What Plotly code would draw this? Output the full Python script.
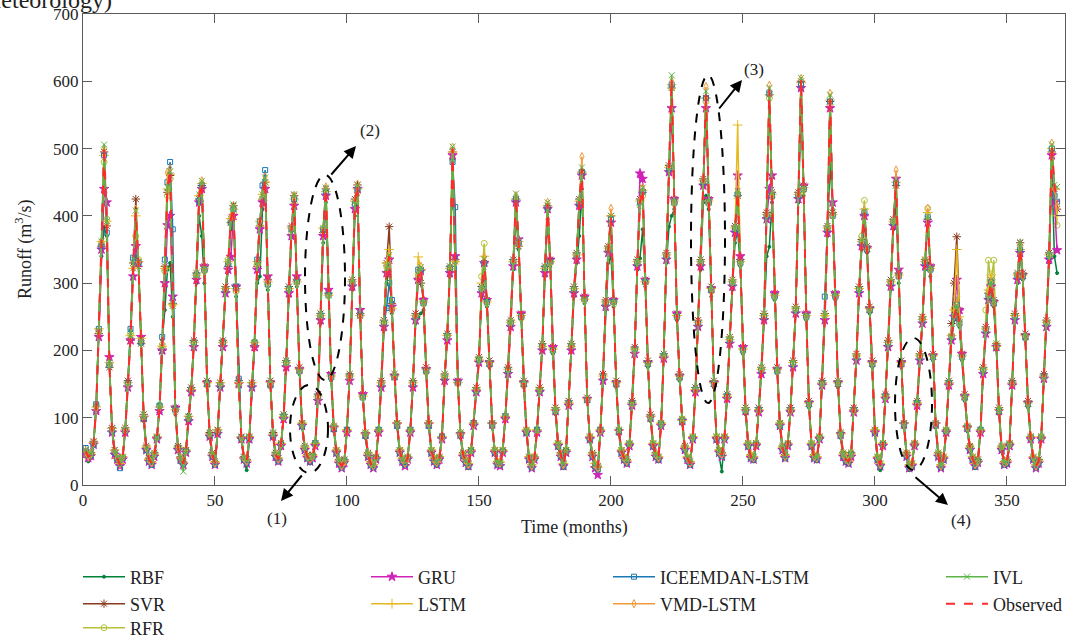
import plotly.graph_objects as go

# ---------------- data (monthly runoff, m3/s) ----------------
months = list(range(1, 370))

observed_rows = [
    [50, 42, 45, 62, 115, 230, 360, 503, 390, 180, 82, 50],
    [40, 30, 40, 80, 150, 220, 320, 405, 330, 215, 100, 55],
    [38, 33, 45, 70, 115, 205, 320, 440, 468, 265, 110, 55],
    [40, 32, 50, 100, 140, 210, 310, 430, 450, 320, 150, 75],
    [45, 32, 80, 150, 210, 290, 330, 395, 412, 290, 150, 70],
    [40, 35, 70, 150, 210, 330, 390, 430, 455, 300, 150, 75],
    [45, 38, 60, 100, 180, 290, 380, 428, 300, 170, 90, 55],
    [42, 38, 42, 60, 130, 250, 380, 441, 280, 160, 85, 50],
    [35, 28, 35, 80, 160, 300, 420, 445, 250, 130, 75, 45],
    [32, 28, 40, 80, 150, 240, 320, 340, 260, 160, 90, 50],
    [38, 32, 40, 80, 150, 250, 310, 322, 270, 170, 90, 50],
    [38, 33, 40, 70, 160, 220, 320, 500, 330, 150, 75, 45],
    [36, 30, 50, 90, 140, 185, 290, 335, 270, 180, 90, 50],
    [33, 32, 50, 100, 170, 240, 330, 428, 360, 250, 150, 80],
    [40, 28, 40, 80, 140, 205, 320, 418, 330, 200, 110, 60],
    [45, 30, 50, 120, 205, 290, 340, 420, 470, 275, 126, 70],
    [45, 30, 25, 80, 160, 270, 350, 398, 270, 150, 80, 50],
    [40, 35, 60, 120, 200, 330, 420, 440, 300, 180, 100, 60],
    [45, 40, 90, 190, 340, 470, 603, 420, 250, 160, 95, 55],
    [40, 32, 70, 140, 240, 330, 450, 582, 420, 290, 150, 70],
    [50, 45, 70, 130, 215, 300, 380, 435, 330, 200, 110, 60],
    [42, 40, 60, 110, 170, 250, 400, 588, 430, 280, 170, 90],
    [55, 42, 60, 110, 180, 260, 430, 603, 440, 250, 120, 60],
    [42, 40, 70, 150, 250, 380, 578, 400, 280, 150, 75, 45],
    [38, 35, 45, 110, 190, 290, 360, 405, 350, 260, 180, 80],
    [40, 30, 60, 130, 210, 300, 390, 452, 310, 180, 90, 45],
    [28, 30, 60, 120, 190, 245, 330, 398, 320, 190, 90, 45],
    [28, 40, 80, 150, 220, 250, 265, 240, 190, 130, 85, 55],
    [40, 30, 35, 80, 170, 230, 280, 300, 270, 205, 110, 55],
    [32, 35, 60, 150, 250, 310, 352, 310, 220, 120, 70, 40],
    [28, 35, 70, 160, 240, 340, 505, 445, 420],
]

rbf_rows = [
    [45, 35, 40, 58, 120, 225, 340, 383, 370, 185, 85, 45],
    [35, 28, 38, 85, 155, 230, 330, 340, 330, 220, 95, 50],
    [35, 30, 42, 72, 120, 215, 260, 320, 330, 250, 105, 50],
    [38, 30, 48, 105, 145, 215, 300, 400, 370, 300, 155, 70],
    [40, 28, 75, 145, 215, 285, 320, 380, 400, 280, 155, 65],
    [35, 22, 65, 145, 215, 300, 310, 410, 440, 290, 145, 70],
    [40, 33, 55, 105, 185, 280, 370, 420, 295, 165, 85, 50],
    [38, 32, 40, 65, 135, 240, 360, 420, 285, 155, 80, 45],
    [30, 25, 38, 85, 165, 290, 400, 430, 255, 135, 70, 40],
    [28, 25, 42, 85, 155, 230, 300, 320, 255, 165, 85, 45],
    [35, 28, 42, 85, 155, 240, 250, 255, 260, 165, 85, 45],
    [35, 28, 42, 75, 155, 225, 310, 480, 340, 155, 70, 40],
    [32, 25, 52, 95, 145, 190, 280, 320, 265, 175, 85, 45],
    [30, 28, 52, 105, 175, 235, 320, 400, 350, 245, 145, 75],
    [35, 25, 42, 85, 145, 210, 310, 395, 325, 195, 105, 55],
    [40, 25, 55, 125, 210, 280, 330, 370, 440, 270, 130, 65],
    [40, 25, 20, 85, 165, 260, 330, 340, 265, 145, 75, 45],
    [35, 30, 62, 125, 205, 320, 337, 380, 295, 175, 95, 55],
    [40, 35, 95, 195, 330, 384, 400, 410, 245, 155, 90, 50],
    [35, 28, 72, 145, 235, 320, 420, 430, 410, 280, 145, 65],
    [45, 20, 72, 135, 220, 290, 360, 379, 325, 195, 105, 55],
    [38, 35, 62, 115, 175, 245, 340, 354, 420, 275, 165, 85],
    [50, 38, 62, 115, 185, 255, 420, 560, 430, 245, 115, 55],
    [38, 35, 72, 155, 245, 370, 480, 410, 275, 145, 70, 40],
    [32, 30, 48, 115, 195, 285, 350, 390, 345, 255, 175, 75],
    [35, 22, 62, 135, 215, 290, 380, 420, 300, 175, 85, 40],
    [22, 28, 62, 125, 195, 240, 320, 330, 310, 185, 85, 40],
    [25, 35, 82, 155, 215, 245, 255, 235, 185, 125, 80, 50],
    [35, 25, 38, 85, 175, 225, 275, 290, 265, 200, 105, 50],
    [28, 30, 62, 155, 245, 300, 340, 305, 215, 115, 65, 35],
    [25, 30, 72, 165, 235, 330, 470, 340, 315],
]

svr_rows = [
    [52, 44, 48, 65, 112, 225, 355, 495, 385, 175, 85, 52],
    [42, 32, 42, 85, 155, 215, 330, 425, 325, 210, 105, 58],
    [40, 35, 48, 72, 112, 200, 325, 435, 460, 270, 115, 58],
    [42, 34, 52, 102, 145, 215, 315, 425, 445, 325, 155, 78],
    [48, 35, 82, 152, 215, 295, 325, 390, 415, 295, 155, 72],
    [42, 38, 72, 152, 205, 325, 385, 425, 450, 305, 155, 78],
    [48, 40, 62, 105, 185, 295, 385, 430, 305, 175, 92, 58],
    [45, 40, 45, 62, 135, 255, 375, 440, 285, 165, 88, 52],
    [38, 30, 38, 82, 165, 305, 425, 446, 255, 135, 78, 48],
    [35, 30, 42, 82, 155, 245, 330, 384, 270, 165, 92, 52],
    [40, 35, 42, 82, 155, 255, 305, 300, 275, 175, 92, 52],
    [40, 35, 42, 72, 165, 225, 325, 495, 335, 155, 78, 48],
    [38, 32, 52, 92, 145, 190, 295, 330, 275, 185, 92, 52],
    [35, 34, 52, 102, 175, 245, 335, 425, 355, 255, 155, 82],
    [42, 30, 42, 82, 145, 210, 325, 415, 335, 205, 115, 62],
    [48, 32, 52, 125, 210, 295, 345, 425, 465, 280, 130, 72],
    [48, 32, 28, 82, 165, 275, 355, 400, 275, 155, 82, 52],
    [42, 38, 62, 125, 205, 335, 425, 435, 305, 185, 105, 62],
    [48, 42, 92, 195, 345, 475, 590, 425, 255, 165, 98, 58],
    [42, 35, 72, 145, 245, 335, 455, 575, 425, 295, 155, 72],
    [52, 48, 72, 135, 220, 305, 385, 430, 335, 205, 115, 62],
    [45, 42, 62, 115, 175, 255, 405, 580, 435, 285, 175, 92],
    [58, 45, 62, 115, 185, 265, 435, 600, 445, 255, 125, 62],
    [45, 42, 72, 155, 255, 385, 570, 405, 285, 155, 78, 48],
    [40, 38, 48, 115, 195, 295, 365, 400, 355, 265, 185, 82],
    [42, 32, 62, 135, 215, 305, 395, 445, 315, 185, 92, 48],
    [30, 32, 62, 125, 195, 250, 335, 395, 325, 195, 92, 48],
    [30, 42, 82, 155, 240, 300, 369, 260, 195, 135, 88, 58],
    [42, 32, 38, 82, 175, 235, 285, 305, 275, 210, 115, 58],
    [35, 38, 62, 155, 255, 315, 360, 315, 225, 125, 72, 42],
    [30, 38, 72, 165, 245, 345, 495, 440, 410],
]

rfr_rows = [
    [48, 40, 46, 60, 118, 228, 358, 480, 395, 178, 80, 48],
    [38, 32, 42, 82, 148, 225, 335, 370, 335, 212, 98, 52],
    [36, 32, 46, 72, 118, 208, 318, 430, 455, 268, 112, 56],
    [38, 34, 52, 98, 142, 212, 308, 420, 440, 318, 148, 72],
    [44, 34, 78, 148, 212, 292, 335, 390, 405, 288, 148, 68],
    [38, 36, 72, 148, 212, 328, 385, 425, 445, 298, 148, 72],
    [44, 36, 62, 102, 182, 288, 375, 420, 305, 172, 92, 52],
    [40, 36, 44, 62, 128, 248, 375, 430, 285, 162, 88, 52],
    [36, 30, 36, 82, 162, 298, 415, 435, 255, 132, 78, 46],
    [34, 30, 42, 82, 148, 238, 325, 335, 265, 162, 92, 52],
    [40, 34, 42, 82, 148, 248, 312, 318, 272, 168, 92, 52],
    [40, 34, 42, 72, 158, 222, 318, 485, 335, 152, 78, 46],
    [38, 32, 52, 92, 142, 188, 310, 359, 275, 182, 92, 52],
    [35, 34, 52, 102, 168, 242, 328, 420, 358, 248, 148, 82],
    [42, 30, 42, 82, 142, 208, 318, 410, 332, 202, 112, 62],
    [46, 32, 52, 122, 208, 288, 338, 415, 460, 278, 128, 72],
    [46, 32, 28, 82, 158, 268, 348, 390, 272, 152, 82, 52],
    [42, 36, 62, 122, 202, 328, 415, 430, 302, 182, 102, 62],
    [46, 42, 92, 192, 338, 465, 590, 418, 252, 162, 98, 56],
    [42, 34, 72, 142, 238, 328, 445, 570, 418, 288, 152, 72],
    [52, 46, 72, 132, 218, 302, 378, 430, 332, 202, 112, 62],
    [44, 42, 62, 112, 172, 252, 398, 575, 428, 282, 172, 92],
    [56, 44, 62, 112, 182, 262, 428, 590, 438, 252, 122, 62],
    [44, 42, 72, 152, 252, 378, 565, 402, 282, 152, 78, 48],
    [40, 36, 48, 112, 192, 292, 370, 423, 352, 262, 182, 82],
    [42, 32, 62, 132, 212, 302, 388, 445, 312, 182, 92, 48],
    [30, 32, 62, 122, 192, 248, 335, 411, 322, 192, 92, 48],
    [30, 42, 82, 152, 222, 262, 280, 245, 192, 132, 88, 58],
    [42, 32, 38, 82, 172, 260, 334, 300, 334, 210, 112, 56],
    [34, 36, 62, 152, 252, 312, 345, 312, 222, 122, 72, 42],
    [30, 36, 72, 162, 242, 338, 495, 430, 386],
]

gru_rows = [
    [46, 40, 43, 60, 110, 220, 350, 440, 420, 190, 78, 45],
    [38, 28, 38, 78, 145, 215, 310, 355, 330, 220, 100, 52],
    [35, 30, 42, 68, 110, 200, 300, 386, 400, 280, 115, 52],
    [38, 30, 48, 95, 138, 205, 305, 420, 440, 325, 152, 72],
    [42, 30, 76, 145, 205, 285, 320, 339, 400, 295, 150, 68],
    [38, 32, 68, 145, 205, 320, 380, 420, 440, 310, 152, 72],
    [42, 35, 58, 98, 175, 285, 370, 415, 310, 172, 88, 52],
    [40, 35, 40, 58, 125, 245, 370, 430, 290, 165, 85, 48],
    [32, 25, 33, 78, 155, 295, 410, 440, 260, 135, 75, 42],
    [30, 25, 38, 78, 145, 235, 315, 335, 265, 162, 90, 48],
    [35, 28, 38, 78, 145, 245, 305, 318, 275, 172, 90, 48],
    [35, 30, 38, 68, 155, 215, 315, 490, 340, 155, 75, 42],
    [33, 28, 48, 88, 138, 182, 285, 330, 275, 182, 90, 48],
    [30, 28, 48, 98, 165, 235, 325, 420, 365, 255, 152, 78],
    [38, 25, 38, 78, 138, 200, 315, 410, 335, 205, 110, 58],
    [42, 28, 48, 118, 200, 285, 335, 415, 460, 280, 128, 68],
    [42, 25, 15, 78, 155, 265, 345, 390, 275, 152, 80, 48],
    [38, 32, 58, 118, 195, 325, 463, 455, 305, 182, 100, 58],
    [42, 38, 88, 188, 335, 465, 560, 425, 255, 162, 95, 52],
    [38, 30, 68, 138, 235, 325, 445, 560, 425, 292, 152, 68],
    [48, 42, 68, 128, 210, 295, 375, 460, 340, 205, 110, 58],
    [40, 38, 58, 108, 165, 245, 395, 440, 460, 285, 172, 88],
    [52, 40, 58, 108, 175, 255, 425, 590, 445, 255, 122, 58],
    [40, 38, 68, 148, 245, 375, 560, 420, 285, 152, 75, 42],
    [35, 32, 42, 108, 185, 285, 355, 400, 352, 262, 182, 78],
    [38, 28, 58, 128, 205, 295, 385, 455, 320, 182, 90, 42],
    [25, 28, 58, 118, 185, 240, 325, 390, 325, 192, 90, 42],
    [25, 38, 78, 148, 215, 250, 305, 260, 195, 132, 85, 52],
    [38, 28, 33, 78, 165, 225, 275, 295, 272, 205, 110, 52],
    [30, 32, 58, 148, 245, 305, 345, 312, 222, 122, 68, 38],
    [25, 32, 68, 158, 235, 335, 490, 420, 349],
]

lstm_rows = [
    [50, 43, 46, 63, 116, 232, 362, 490, 392, 182, 84, 52],
    [40, 32, 42, 82, 152, 222, 322, 400, 332, 218, 102, 56],
    [38, 34, 46, 72, 116, 206, 322, 440, 462, 268, 112, 56],
    [40, 33, 52, 102, 142, 212, 312, 430, 448, 322, 152, 76],
    [46, 34, 82, 152, 212, 292, 332, 396, 410, 292, 152, 72],
    [40, 36, 72, 152, 212, 332, 392, 432, 450, 302, 152, 76],
    [46, 40, 62, 102, 182, 292, 382, 425, 302, 172, 92, 56],
    [44, 40, 44, 62, 132, 252, 382, 436, 282, 162, 86, 52],
    [36, 30, 36, 82, 162, 302, 422, 440, 252, 132, 76, 46],
    [34, 30, 42, 82, 152, 242, 330, 350, 262, 162, 92, 52],
    [40, 34, 42, 82, 152, 252, 339, 320, 272, 172, 92, 52],
    [40, 34, 42, 72, 162, 222, 322, 495, 332, 152, 76, 46],
    [38, 32, 52, 92, 142, 186, 300, 340, 272, 182, 92, 52],
    [34, 34, 52, 102, 172, 242, 332, 425, 362, 252, 152, 82],
    [42, 30, 42, 82, 142, 206, 322, 415, 332, 202, 112, 62],
    [46, 32, 52, 122, 206, 292, 342, 422, 465, 276, 128, 72],
    [46, 32, 26, 82, 162, 272, 352, 400, 272, 152, 82, 52],
    [42, 36, 62, 122, 202, 332, 422, 438, 302, 182, 102, 62],
    [46, 42, 92, 192, 342, 472, 595, 422, 252, 162, 96, 56],
    [42, 34, 72, 142, 242, 332, 452, 575, 422, 292, 152, 72],
    [52, 46, 72, 132, 216, 302, 382, 535, 332, 202, 112, 62],
    [44, 42, 62, 112, 172, 252, 402, 580, 432, 282, 172, 92],
    [56, 44, 62, 112, 182, 262, 432, 598, 442, 252, 122, 62],
    [44, 42, 72, 152, 252, 382, 572, 402, 282, 152, 76, 46],
    [40, 36, 46, 112, 192, 292, 362, 410, 352, 262, 182, 82],
    [42, 32, 62, 132, 212, 302, 392, 450, 312, 182, 92, 46],
    [30, 32, 62, 122, 192, 246, 332, 405, 322, 192, 92, 46],
    [30, 42, 82, 152, 222, 260, 350, 250, 192, 132, 86, 56],
    [42, 32, 36, 82, 172, 232, 290, 312, 272, 206, 112, 56],
    [34, 36, 62, 152, 252, 312, 350, 312, 222, 122, 72, 42],
    [30, 36, 72, 162, 242, 342, 500, 440, 400],
]

iceemdan_rows = [
    [55, 45, 44, 60, 120, 232, 355, 490, 375, 178, 80, 48],
    [38, 25, 40, 80, 152, 232, 338, 338, 330, 212, 98, 52],
    [36, 30, 44, 70, 118, 220, 335, 450, 480, 380, 112, 55],
    [36, 32, 50, 98, 142, 212, 312, 422, 445, 320, 150, 73],
    [43, 30, 78, 148, 212, 290, 328, 390, 410, 295, 158, 70],
    [38, 33, 70, 148, 212, 335, 392, 445, 468, 298, 148, 73],
    [43, 36, 60, 102, 182, 292, 380, 425, 302, 170, 88, 53],
    [40, 35, 42, 62, 132, 252, 380, 435, 282, 160, 83, 48],
    [33, 26, 36, 82, 162, 300, 418, 440, 252, 130, 73, 43],
    [30, 26, 40, 82, 150, 240, 263, 300, 275, 160, 88, 48],
    [36, 30, 40, 82, 150, 250, 320, 320, 270, 170, 88, 48],
    [36, 31, 40, 72, 160, 222, 322, 480, 413, 152, 75, 43],
    [34, 28, 50, 92, 140, 186, 292, 330, 272, 180, 90, 48],
    [31, 30, 50, 102, 170, 240, 332, 425, 360, 250, 150, 78],
    [38, 26, 40, 82, 140, 206, 322, 412, 332, 200, 110, 58],
    [43, 28, 50, 122, 206, 290, 342, 418, 465, 276, 126, 68],
    [43, 28, 23, 82, 160, 270, 350, 395, 272, 150, 80, 48],
    [38, 33, 60, 122, 202, 330, 420, 436, 302, 180, 100, 58],
    [43, 38, 90, 192, 340, 470, 595, 420, 250, 160, 95, 53],
    [38, 30, 70, 142, 240, 330, 450, 575, 420, 290, 150, 68],
    [48, 43, 70, 132, 215, 300, 380, 432, 330, 200, 110, 58],
    [40, 38, 60, 112, 170, 250, 400, 582, 430, 280, 170, 88],
    [53, 40, 60, 112, 180, 260, 430, 595, 440, 250, 120, 58],
    [40, 38, 70, 152, 280, 380, 570, 400, 280, 150, 75, 43],
    [36, 33, 45, 112, 190, 290, 360, 405, 350, 260, 180, 78],
    [38, 28, 60, 132, 210, 300, 390, 448, 310, 180, 90, 43],
    [26, 28, 60, 122, 190, 245, 330, 398, 320, 190, 90, 43],
    [26, 38, 80, 152, 220, 250, 268, 240, 190, 130, 85, 53],
    [38, 28, 35, 82, 170, 230, 280, 302, 270, 205, 110, 53],
    [30, 33, 60, 152, 250, 310, 350, 310, 220, 120, 70, 38],
    [26, 33, 70, 162, 240, 340, 500, 430, 421],
]

vmd_rows = [
    [50, 43, 46, 62, 114, 230, 362, 500, 388, 180, 82, 50],
    [40, 31, 41, 80, 150, 221, 322, 410, 331, 215, 100, 55],
    [38, 33, 45, 70, 115, 206, 322, 465, 470, 265, 110, 55],
    [40, 32, 50, 100, 141, 211, 312, 432, 452, 320, 150, 75],
    [45, 32, 80, 150, 211, 291, 331, 398, 415, 290, 150, 70],
    [40, 35, 70, 150, 211, 331, 392, 432, 458, 300, 150, 75],
    [45, 38, 60, 100, 181, 291, 382, 430, 300, 170, 90, 55],
    [42, 38, 42, 60, 131, 251, 382, 443, 280, 160, 85, 50],
    [35, 28, 35, 80, 161, 301, 422, 447, 250, 130, 75, 45],
    [32, 28, 40, 80, 151, 241, 322, 343, 260, 160, 90, 50],
    [38, 32, 40, 80, 151, 251, 312, 325, 270, 170, 90, 50],
    [38, 33, 40, 70, 161, 221, 322, 502, 330, 150, 75, 45],
    [36, 30, 50, 90, 141, 186, 292, 338, 270, 180, 90, 50],
    [33, 32, 50, 100, 171, 241, 332, 430, 360, 250, 150, 80],
    [40, 28, 40, 80, 141, 206, 322, 420, 330, 200, 110, 60],
    [45, 30, 50, 120, 206, 291, 342, 422, 488, 275, 126, 70],
    [45, 30, 25, 80, 161, 271, 352, 411, 270, 150, 80, 50],
    [40, 35, 60, 120, 201, 331, 422, 442, 300, 180, 100, 60],
    [45, 40, 90, 190, 341, 472, 600, 420, 250, 160, 95, 55],
    [40, 32, 70, 140, 241, 331, 452, 592, 420, 290, 150, 70],
    [50, 45, 70, 130, 216, 301, 382, 438, 330, 200, 110, 60],
    [42, 40, 60, 110, 171, 251, 402, 594, 430, 280, 170, 90],
    [55, 42, 60, 110, 181, 261, 432, 604, 440, 250, 120, 60],
    [42, 40, 70, 150, 251, 382, 582, 400, 280, 150, 75, 45],
    [38, 35, 45, 110, 191, 291, 362, 408, 350, 260, 180, 80],
    [40, 30, 60, 130, 211, 301, 392, 468, 310, 180, 90, 45],
    [28, 30, 60, 120, 191, 246, 332, 411, 320, 190, 90, 45],
    [28, 40, 80, 150, 221, 252, 268, 240, 190, 130, 85, 55],
    [40, 30, 35, 80, 171, 231, 282, 302, 270, 205, 110, 55],
    [32, 35, 60, 150, 251, 311, 354, 310, 220, 120, 70, 40],
    [28, 35, 70, 160, 241, 341, 508, 440, 415],
]

ivl_rows = [
    [52, 44, 46, 64, 116, 228, 362, 506, 392, 182, 84, 52],
    [41, 31, 41, 82, 151, 222, 322, 408, 332, 216, 101, 56],
    [39, 34, 46, 71, 116, 206, 322, 442, 466, 266, 111, 56],
    [41, 20, 51, 101, 141, 211, 311, 432, 452, 322, 151, 76],
    [46, 33, 81, 151, 211, 291, 332, 396, 417, 291, 151, 71],
    [41, 36, 71, 151, 211, 332, 392, 432, 457, 302, 151, 76],
    [46, 39, 61, 101, 181, 291, 382, 432, 302, 171, 91, 56],
    [43, 39, 43, 61, 131, 251, 382, 442, 282, 161, 86, 51],
    [36, 29, 36, 81, 161, 301, 421, 446, 251, 131, 76, 46],
    [33, 29, 41, 81, 151, 241, 322, 342, 261, 161, 91, 51],
    [39, 33, 41, 81, 151, 251, 312, 324, 271, 171, 91, 51],
    [39, 34, 41, 71, 161, 221, 322, 503, 332, 151, 76, 46],
    [37, 31, 51, 91, 141, 186, 292, 336, 271, 181, 91, 51],
    [34, 33, 51, 101, 171, 241, 332, 433, 362, 251, 151, 81],
    [41, 29, 41, 81, 141, 206, 322, 420, 331, 201, 111, 61],
    [46, 31, 51, 121, 206, 291, 342, 422, 472, 276, 127, 71],
    [46, 31, 26, 81, 161, 271, 351, 400, 271, 151, 81, 51],
    [41, 36, 61, 121, 201, 331, 421, 442, 302, 181, 101, 61],
    [46, 41, 91, 191, 342, 472, 609, 422, 251, 161, 96, 56],
    [41, 33, 71, 141, 241, 331, 452, 585, 422, 291, 151, 71],
    [51, 46, 71, 131, 216, 301, 382, 437, 332, 201, 111, 61],
    [43, 41, 61, 111, 171, 251, 402, 590, 432, 281, 171, 91],
    [56, 43, 61, 111, 181, 261, 432, 605, 442, 251, 121, 61],
    [43, 41, 71, 151, 251, 382, 580, 402, 281, 151, 76, 46],
    [39, 36, 46, 111, 191, 291, 362, 407, 352, 261, 181, 81],
    [41, 31, 61, 131, 211, 301, 392, 454, 312, 181, 91, 46],
    [29, 31, 61, 121, 191, 246, 332, 400, 322, 191, 91, 46],
    [29, 41, 81, 151, 221, 252, 267, 242, 191, 131, 86, 56],
    [41, 31, 36, 81, 171, 231, 282, 302, 272, 206, 111, 56],
    [33, 36, 61, 151, 251, 312, 361, 312, 221, 121, 71, 41],
    [29, 36, 71, 161, 241, 342, 506, 446, 443],
]

x_ticks = [0, 50, 100, 150, 200, 250, 300, 350]
y_ticks = [0, 100, 200, 300, 400, 500, 600, 700]


def flat(rows):
    return [v for r in rows for v in r]


FONT = "Liberation Serif, Times New Roman, serif"
W, H = 1071, 637
ML, MR, MT, MB = 83, 6, 14, 152
PW, PH = W - ML - MR, H - MT - MB


def px(xp):  # page pixel -> paper x
    return (xp - ML) / PW


def py(yp):  # page pixel -> paper y
    return (H - MB - yp) / PH


# name, rows, color, symbol, size, legend pixel position (line start x, centre y)
specs = [
    ("RBF", rbf_rows, "#00823a", "circle", 3, (83, 577)),
    ("SVR", svr_rows, "#8a3b1f", "asterisk-open", 7, (83, 604)),
    ("RFR", rfr_rows, "#b3c23a", "circle-open", 6, (83, 628)),
    ("GRU", gru_rows, "#d022b8", "star", 7, (371, 577)),
    ("LSTM", lstm_rows, "#e6b91e", "cross-thin-open", 7, (371, 604)),
    ("ICEEMDAN-LSTM", iceemdan_rows, "#1b78b4", "square-open", 5, (613, 577)),
    ("VMD-LSTM", vmd_rows, "#f09a3a", "diamond-tall-open", 6, (613, 604)),
    ("IVL", ivl_rows, "#5cb346", "x-thin-open", 6, (946, 577)),
]

fig = go.Figure()
legend_layout = {}
for i, (name, rows, color, symbol, size, (lx, ly)) in enumerate(specs):
    key = "legend" if i == 0 else f"legend{i + 1}"
    fig.add_trace(go.Scatter(
        x=months, y=flat(rows), name=name, mode="lines+markers",
        line=dict(color=color, width=1.5),
        marker=dict(symbol=symbol, size=size, color=color,
                    line=dict(color=color, width=1)),
        legend=key,
    ))
    legend_layout[key] = dict(lx=lx, ly=ly)

obs_key = "legend9"
fig.add_trace(go.Scatter(
    x=months, y=flat(observed_rows), name="Observed", mode="lines",
    line=dict(color="#ff2b2b", width=2, dash="dash"),
    legend=obs_key,
))
legend_layout[obs_key] = dict(lx=946, ly=604)

layout_legends = {}
for key, p in legend_layout.items():
    layout_legends[key] = dict(
        xref="container", yref="container",
        x=(p["lx"] - 5) / W, y=1 - p["ly"] / H,
        xanchor="left", yanchor="middle",
        bgcolor="rgba(0,0,0,0)", borderwidth=0,
        font=dict(family=FONT, size=18, color="#222222"),
        itemwidth=42,
    )

fig.update_layout(
    width=W, height=H,
    margin=dict(l=ML, r=MR, t=MT, b=MB, autoexpand=False),
    paper_bgcolor="white", plot_bgcolor="white",
    font=dict(family=FONT, size=17, color="#222222"),
    showlegend=True,
    **layout_legends,
)

axis_common = dict(
    showline=True, linecolor="#5a5a5a", linewidth=1, mirror="ticks",
    ticks="inside", ticklen=9, tickcolor="#5a5a5a", tickwidth=1,
    showgrid=False, zeroline=False, automargin=False,
    tickfont=dict(family=FONT, size=17, color="#222222"),
)
fig.update_xaxes(range=[0, 372], tickvals=x_ticks,
                 ticktext=[str(t) for t in x_ticks], **axis_common)
fig.update_yaxes(range=[0, 700], tickvals=y_ticks,
                 ticktext=[str(t) for t in y_ticks], **axis_common)


def text_at(txt, xp, yp, size=17, angle=0, xanchor="center"):
    fig.add_annotation(x=px(xp), y=py(yp), xref="paper", yref="paper",
                       text=txt, showarrow=False, textangle=angle,
                       xanchor=xanchor, yanchor="middle",
                       font=dict(family=FONT, size=size, color="#222222"))


# axis titles
text_at("Time (months)", 574, 527, size=18)
text_at("Runoff (m<sup>3</sup>/s)", 24, 250, size=18, angle=-90)

# ---- dashed ellipses marking regions (1)-(4), page pixel boxes ----
ellipses = [
    (290, 328, 385, 473),
    (305, 345, 175, 380),
    (691, 725, 75, 403),
    (895, 932, 338, 470),
]
for x0, x1, y0, y1 in ellipses:
    fig.add_shape(type="circle", xref="paper", yref="paper",
                  x0=px(x0), x1=px(x1), y0=py(y1), y1=py(y0),
                  line=dict(color="black", width=2, dash="dash"))

# arrows (tail px, tail py, head px, head py) -- tail given as pixel offset
arrows = [
    (303, 474, 281, 501),
    (330, 176, 356, 146),
    (718, 110, 742, 80),
    (914, 476, 948, 505),
]
for tx, ty, hx, hy in arrows:
    fig.add_annotation(x=px(hx), y=py(hy), ax=tx - hx, ay=ty - hy,
                       xref="paper", yref="paper", axref="pixel", ayref="pixel",
                       text="", showarrow=True, arrowhead=2, arrowsize=1.2,
                       arrowwidth=2, arrowcolor="black")
for txt, lx, ly in [("(1)", 277, 518), ("(2)", 370, 131), ("(3)", 754, 70), ("(4)", 961, 520)]:
    text_at(txt, lx, ly)

# clipped panel caption at the very top-left
text_at("Meteorology)", 114, 0, size=24, xanchor="right")

fig.write_html("out.html")
